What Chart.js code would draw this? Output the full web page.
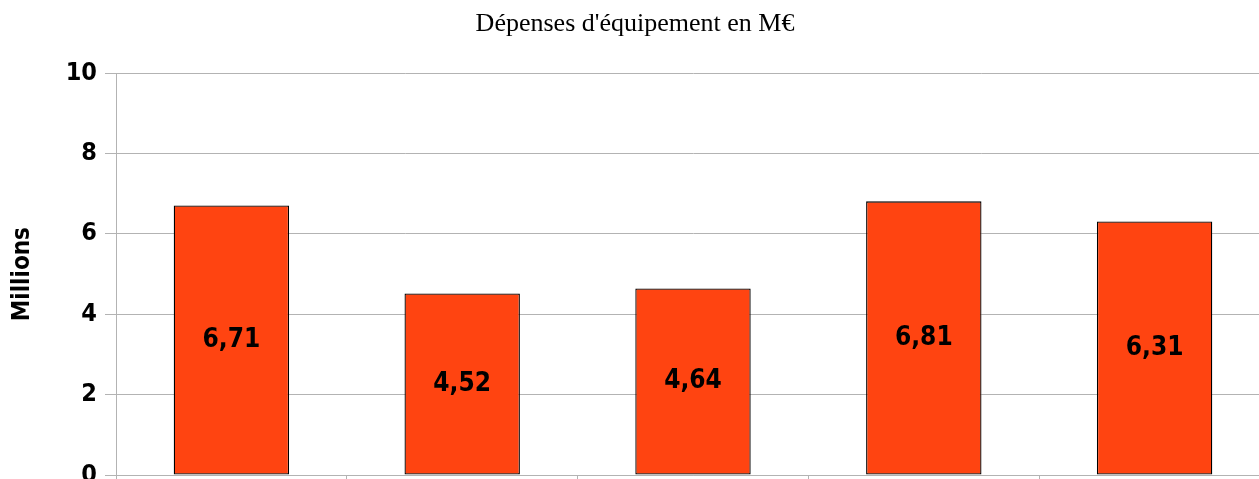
<!DOCTYPE html>
<html>
<head>
<meta charset="utf-8">
<script src="https://cdn.jsdelivr.net/npm/chart.js@4.4.0/dist/chart.umd.min.js"></script>
<style>
  html, body { margin: 0; padding: 0; background: #ffffff; overflow: hidden; }
  #wrap { position: relative; width: 1270px; height: 520px; }
</style>
</head>
<body>
<div id="wrap"><canvas id="chart"></canvas></div>
<script>
// Spending per period, in millions of euros
const categories = ['1', '2', '3', '4', '5'];
const values = [6.71, 4.52, 4.64, 6.81, 6.31];
const yTicks = [0, 2, 4, 6, 8, 10];

const chartTitle = "Dépenses d'équipement en M€";
const yTitle = 'Millions';

const sansFamily = '"DejaVu Sans Condensed", "DejaVu Sans", sans-serif';
const labelFont = 'bold 26px ' + sansFamily;

// Writes each bar's value (French decimal comma) in the middle of the bar
const barValueLabels = {
  id: 'barValueLabels',
  afterDatasetsDraw(chart) {
    const ctx = chart.ctx;
    const meta = chart.getDatasetMeta(0);
    ctx.save();
    ctx.font = labelFont;
    ctx.fillStyle = '#000000';
    ctx.textAlign = 'center';
    ctx.textBaseline = 'middle';
    meta.data.forEach((bar, i) => {
      const text = values[i].toFixed(2).replace('.', ',');
      const mid = (bar.y + bar.base) / 2;
      ctx.fillText(text, bar.x, mid);
    });
    ctx.restore();
  }
};

new Chart(document.getElementById('chart'), {
  type: 'bar',
  data: {
    labels: categories,
    datasets: [{
      data: values,
      backgroundColor: '#ff4411',
      borderColor: '#000000',
      borderWidth: 1.3,
      borderSkipped: false,
      barPercentage: 0.5,
      categoryPercentage: 1.0
    }]
  },
  options: {
    responsive: true,
    maintainAspectRatio: false,
    animation: false,
    layout: { padding: 0 },
    plugins: {
      legend: { display: false },
      tooltip: { enabled: false },
      title: {
        display: true,
        text: chartTitle,
        color: '#000000',
        font: { family: '"Liberation Serif", "Times New Roman", serif', size: 26, weight: 'normal', lineHeight: 1.2 },
        padding: { top: 9, bottom: 33 }
      }
    },
    scales: {
      x: {
        offset: true,
        grid: {
          offset: true,
          drawOnChartArea: false,
          drawTicks: true,
          tickLength: 8,
          color: '#b3b3b3'
        },
        border: { display: true, color: '#b3b3b3' },
        ticks: { display: false },
        afterFit(scale) { scale.height = 45; }
      },
      y: {
        min: 0,
        max: 10,
        afterBuildTicks(scale) { scale.ticks = yTicks.map(v => ({ value: v })); },
        grid: {
          color: '#b3b3b3',
          tickLength: 11,
          drawTicks: true
        },
        border: { display: true, color: '#b3b3b3' },
        ticks: {
          color: '#000000',
          padding: 8,
          font: { family: sansFamily, size: 25, weight: 'bold' }
        },
        title: {
          display: true,
          text: yTitle,
          color: '#000000',
          font: { family: sansFamily, size: 24, weight: 'bold', lineHeight: 1.2 },
          padding: { top: 8, bottom: 0 }
        },
        afterFit(scale) { scale.width = 116; }
      }
    }
  },
  plugins: [barValueLabels]
});
</script>
</body>
</html>
